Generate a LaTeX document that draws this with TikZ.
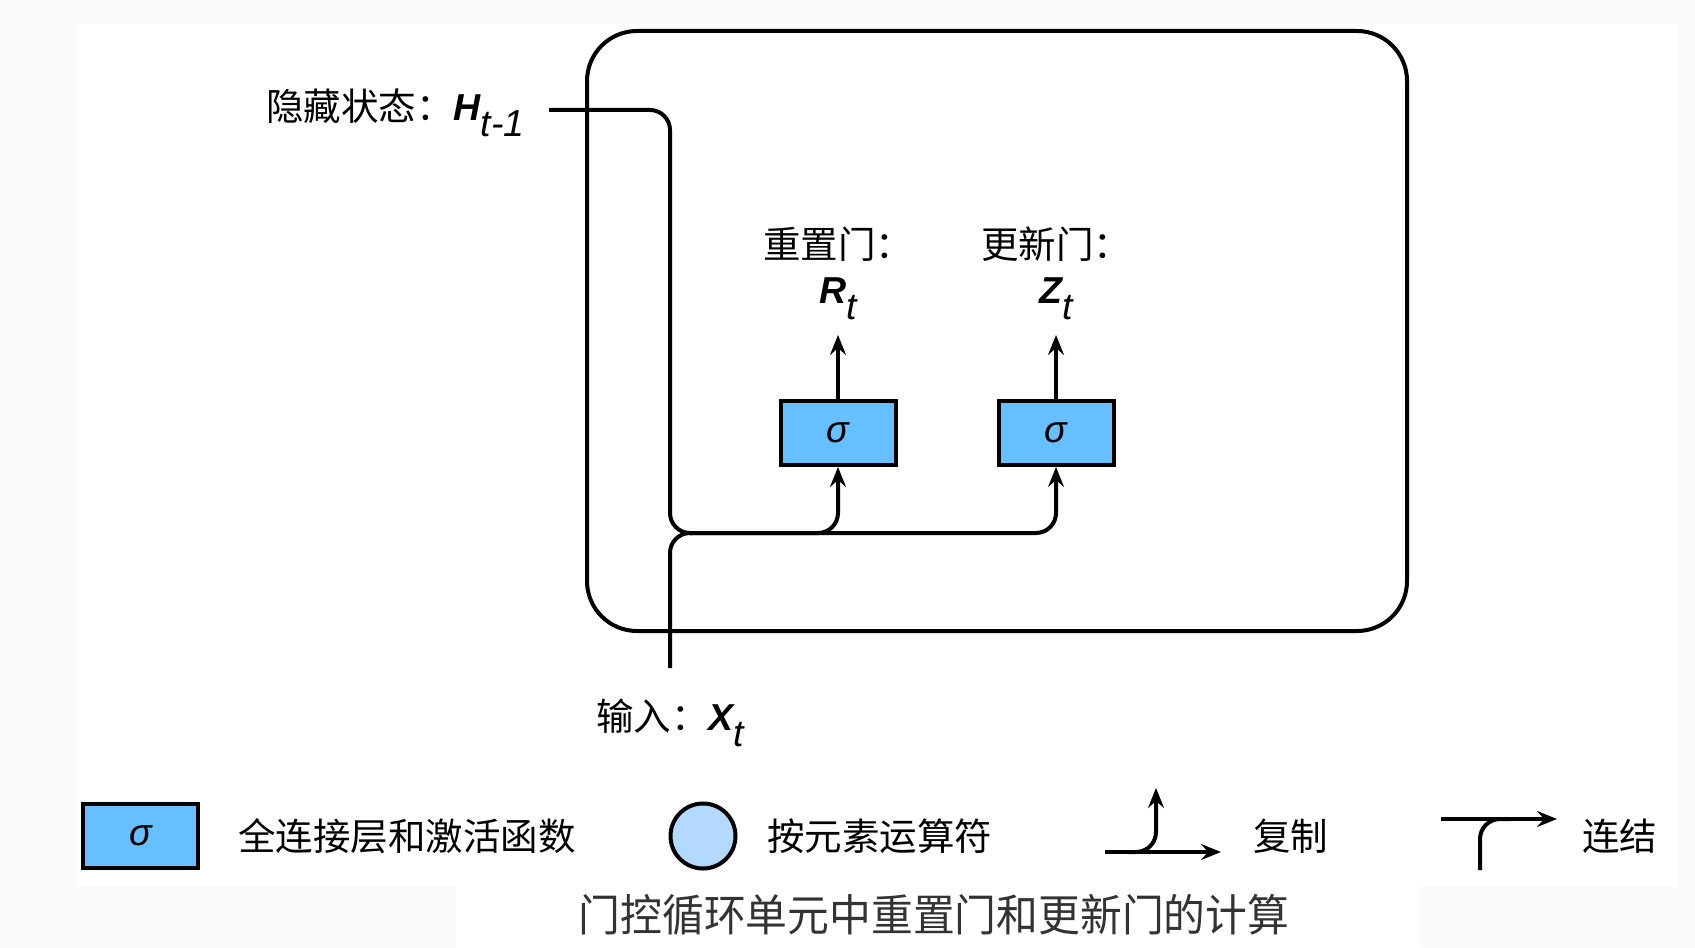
\documentclass[tikz,border=0pt]{standalone}
\usepackage{fontspec}
\setmainfont{Liberation Sans}
\newfontfamily\cjk{Noto Sans CJK SC}
\newfontfamily\cjkcap[FakeStretch=0.95]{Noto Sans CJK SC}
\usepackage{xcolor}
\usetikzlibrary{positioning,arrows.meta,calc}
\definecolor{gateblue}{HTML}{66BFFF}
\definecolor{opblue}{HTML}{B3D9FF}
\definecolor{pagebg}{HTML}{FAFAFA}
\definecolor{capgray}{HTML}{333333}
\newcommand{\gvar}[2]{{\bfseries\itshape #1}\raisebox{-8pt}{\itshape #2}}

\begin{document}
\begin{tikzpicture}[
    x=0.5pt, y=-0.5pt,
    txt/.style={inner sep=0pt, font=\fontsize{18.75}{22}\selectfont},
    gatebox/.style={draw, line width=2pt, fill=gateblue, minimum width=57.5pt, minimum height=32pt, inner sep=0pt, font=\fontsize{18.75}{22}\selectfont\itshape},
    opcircle/.style={draw, circle, line width=2pt, fill=opblue, minimum size=32.5pt, inner sep=0pt},
    cellframe/.style={draw, line width=2pt, rounded corners=25pt, minimum width=410pt, minimum height=300pt},
    wire/.style={line width=2pt, rounded corners=10pt},
    arr/.style={wire, -{Stealth[length=10pt, width=8pt, inset=3.5pt]}}
]
    \fill[pagebg] (0,0) rectangle (1695,947);
    \fill[white] (77,24) rectangle (1678,887);
    \fill[white] (456,887) rectangle (1420,947);
    \useasboundingbox (0,0) rectangle (1695,947);

    \node[cellframe] (cell) at (997,331) {};

    \node[gatebox] (rbox) at (838,433) {σ};
    \node[gatebox] (zbox) at (1056,433) {σ};
    \coordinate (rtip) at (838,335);
    \coordinate (ztip) at (1056,335);
    \node[txt, anchor=base] (rname) at (838,303) {\gvar{R}{t}};
    \node[txt, anchor=base] (zname) at (1056,303) {\gvar{Z}{t}};
    \node[txt, anchor=base] (rgate) at (838,258) {\cjk 重置门：};
    \node[txt, anchor=base] (zgate) at (1056,258) {\cjk 更新门：};

    \node[txt, anchor=base west] (hidden) at (266,120) {{\cjk 隐藏状态：}\gvar{H}{t-1}};
    \node[txt, anchor=base west] (input) at (596,730) {{\cjk 输入：}\gvar{X}{t}};
    \coordinate (hin) at (549,110);
    \coordinate (xin) at (670,668);
    \coordinate (split) at (670,533);

    \draw[arr] (hin) -| (split) -| (zbox.south);
    \draw[wire] (xin) |- ($(split)+(22,0)$);
    \draw[arr] ($(split)+(20,0)$) -| (rbox.south);
    \draw[arr] (rbox) -- (rtip);
    \draw[arr] (zbox) -- (ztip);

    % legend
    \node[gatebox] (keygate) at (140.5,836) {σ};
    \node[txt, anchor=base west] (keygatetxt) at (238,850) {\cjk 全连接层和激活函数};
    \node[opcircle] (keyop) at (703,836) {};
    \node[txt, anchor=base west] (keyoptxt) at (767,850) {\cjk 按元素运算符};
    \coordinate (copyl) at (1105,852);
    \coordinate (copyr) at (1221,852);
    \coordinate (copyup) at (1156,788);
    \draw[arr] (copyl) -- (copyr);
    \draw[arr] (1128,852) -| (copyup);
    \node[txt, anchor=base west] (copytxt) at (1253,850) {\cjk 复制};
    \coordinate (catl) at (1441,819);
    \coordinate (catr) at (1557,819);
    \coordinate (catdown) at (1480,870);
    \draw[arr] (catl) -- (catr);
    \draw[wire] (catdown) |- (1510,819);
    \node[txt, anchor=base west] (cattxt) at (1582,850) {\cjk 连结};

    \node[inner sep=0pt, anchor=base, text=capgray, font=\fontsize{22}{26}\selectfont] (caption) at (934,931) {\cjkcap 门控循环单元中重置门和更新门的计算};
\end{tikzpicture}
\end{document}
